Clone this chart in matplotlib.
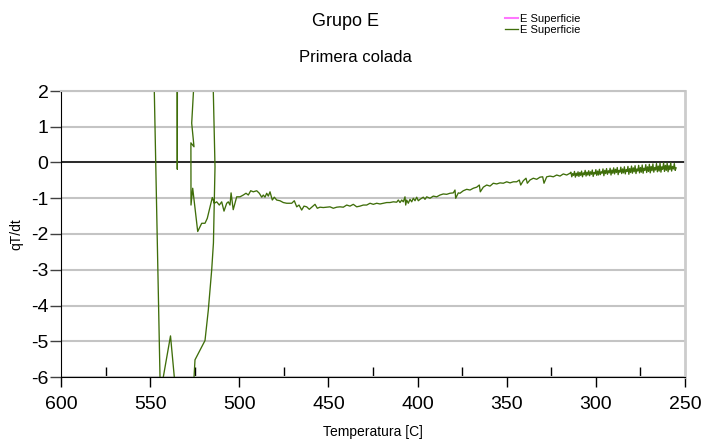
import matplotlib
matplotlib.use("Agg")
import matplotlib.pyplot as plt
from matplotlib.ticker import FixedLocator

plt.rcParams['font.family'] = ['Liberation Sans', 'DejaVu Sans']
plt.rcParams['axes.unicode_minus'] = False

# temperatura [C] y dT/dt, en el orden de la serie (los picos salen del rango)
temp = [548.87, 543.67, 546.13, 538.58, 534.60,
        526.50, 524.84, 519.23, 517.38, 515.47, 514.50, 513.62, 515.03,
        534.85, 534.77, 534.70,
        524.56, 526.69, 525.40, 527.14, 527.08, 526.13, 524.84, 523.32, 522.03,
        521.08, 519.23, 517.94, 516.43, 515.14, 514.01, 512.67, 511.21, 509.86,
        508.57, 507.06, 506.16, 505.21, 504.60, 503.40,
        501.45, 499.60, 497.75, 496.23, 494.94, 493.60, 492.14, 490.23, 488.77,
        487.42, 486.53, 485.58, 484.62, 483.72, 482.77, 481.48, 480.36, 479.01,
        477.16, 475.31, 473.40, 470.60, 469.14, 467.79, 466.50, 465.00, 463.70,
        462.19, 460.73, 459.38, 457.53, 456.24, 454.73, 452.87, 450.97, 449.12,
        447.27, 445.36, 443.51, 441.65, 439.75, 437.90, 436.05, 434.14, 432.29,
        430.44, 428.53, 426.68, 424.83, 422.92, 421.07, 419.22, 417.31, 415.46,
        413.61, 411.70, 410.80, 409.85, 408.90, 408.00, 407.05, 406.66, 406.10,
        405.20, 404.25, 403.29, 402.40, 401.44, 400.49, 399.59, 398.64, 396.79,
        395.83, 394.88, 393.03, 391.18, 389.27, 387.42, 385.57, 383.66, 381.81,
        379.96, 379.01, 378.62, 377.15, 376.20, 374.35, 372.44, 370.59, 368.74,
        366.83, 365.37, 364.81, 363.13, 361.22, 359.37, 357.52, 355.61, 353.76,
        351.91, 350.00, 348.15, 346.30, 344.40, 342.94, 342.15, 340.69, 339.18,
        338.45, 336.94, 335.09, 333.18, 331.33, 329.82, 329.09, 327.57, 325.72,
        323.87, 321.96, 320.11, 318.26, 316.35, 314.50,
        314.0, 313.5, 313.0, 312.5, 312.0, 311.5, 311.0, 310.5, 310.0, 309.5,
        309.0, 308.5, 308.0, 307.5, 307.0, 306.5, 306.0, 305.5, 305.0, 304.5,
        304.0, 303.5, 303.0, 302.5, 302.0, 301.5, 301.0, 300.5, 300.0, 299.5,
        299.0, 298.5, 298.0, 297.5, 297.0, 296.5, 296.0, 295.5, 295.0, 294.5,
        294.0, 293.5, 293.0, 292.5, 292.0, 291.5, 291.0, 290.5, 290.0, 289.5,
        289.0, 288.5, 288.0, 287.5, 287.0, 286.5, 286.0, 285.5, 285.0, 284.5,
        284.0, 283.5, 283.0, 282.5, 282.0, 281.5, 281.0, 280.5, 280.0, 279.5,
        279.0, 278.5, 278.0, 277.5, 277.0, 276.5, 276.0, 275.5, 275.0, 274.5,
        274.0, 273.5, 273.0, 272.5, 272.0, 271.5, 271.0, 270.5, 270.0, 269.5,
        269.0, 268.5, 268.0, 267.5, 267.0, 266.5, 266.0, 265.5, 265.0, 264.5,
        264.0, 263.5, 263.0, 262.5, 262.0, 261.5, 261.0, 260.5, 260.0, 259.5,
        259.0, 258.5, 258.0, 257.5, 257.0, 256.5, 256.0, 255.5, 255.0]

dtdt = [5.0, -8.0, -7.0, -4.85, -7.0,
        -7.0, -5.52, -4.98, -4.13, -3.00, -2.25, -0.12, 3.0,
        3.0, -0.19, 3.0,
        3.0, 1.10, 0.44, 0.55, -1.19, -0.72, -1.27, -1.93, -1.80,
        -1.70, -1.70, -1.56, -1.24, -0.98, -1.14, -1.10, -1.19, -1.10,
        -1.36, -1.14, -1.10, -1.19, -0.85, -1.32,
        -0.96, -0.96, -0.91, -0.86, -0.91, -0.79, -0.82, -0.79, -0.86,
        -0.97, -0.91, -0.97, -0.86, -0.94, -0.82, -1.05, -0.97, -1.05,
        -1.07, -1.12, -1.14, -1.14, -1.07, -1.24, -1.19, -1.33, -1.22,
        -1.24, -1.31, -1.25, -1.17, -1.28, -1.25, -1.26, -1.25, -1.24,
        -1.28, -1.25, -1.24, -1.25, -1.19, -1.22, -1.17, -1.24, -1.22,
        -1.19, -1.19, -1.14, -1.17, -1.14, -1.16, -1.14, -1.12, -1.12,
        -1.10, -1.11, -1.05, -1.12, -1.05, -1.10, -0.96, -1.19, -1.05,
        -1.14, -1.03, -1.10, -1.00, -1.07, -0.97, -1.07, -1.03, -0.97,
        -1.03, -0.96, -1.00, -0.94, -0.96, -0.91, -0.88, -0.89, -0.86,
        -0.85, -0.77, -1.00, -0.85, -0.86, -0.79, -0.75, -0.77, -0.72,
        -0.69, -0.63, -0.82, -0.69, -0.63, -0.66, -0.58, -0.60, -0.57,
        -0.58, -0.54, -0.57, -0.54, -0.54, -0.49, -0.63, -0.51, -0.44,
        -0.58, -0.49, -0.44, -0.47, -0.41, -0.40, -0.58, -0.40, -0.38,
        -0.40, -0.35, -0.38, -0.32, -0.35, -0.30,
        -0.27, -0.40, -0.31, -0.36, -0.25, -0.41, -0.30, -0.37, -0.26, -0.39,
        -0.28, -0.36, -0.24, -0.40, -0.29, -0.34, -0.22, -0.38, -0.27, -0.35,
        -0.23, -0.37, -0.26, -0.33, -0.21, -0.39, -0.28, -0.32, -0.20, -0.36,
        -0.24, -0.35, -0.19, -0.34, -0.26, -0.30, -0.18, -0.37, -0.22, -0.31,
        -0.17, -0.33, -0.23, -0.29, -0.16, -0.35, -0.21, -0.30, -0.15, -0.32,
        -0.19, -0.28, -0.14, -0.34, -0.22, -0.27, -0.13, -0.31, -0.18, -0.29,
        -0.12, -0.32, -0.20, -0.25, -0.11, -0.33, -0.17, -0.28, -0.10, -0.30,
        -0.15, -0.26, -0.09, -0.31, -0.18, -0.24, -0.08, -0.29, -0.14, -0.27,
        -0.07, -0.30, -0.16, -0.22, -0.06, -0.28, -0.12, -0.25, -0.05, -0.29,
        -0.11, -0.23, -0.04, -0.27, -0.14, -0.21, -0.03, -0.26, -0.10, -0.24,
        -0.02, -0.27, -0.12, -0.19, -0.01, -0.25, -0.08, -0.22, -0.02, -0.26,
        -0.09, -0.20, -0.01, -0.24, -0.11, -0.18, -0.03, -0.22, -0.15]

# la serie rosa no tiene puntos visibles, solo aparece en la leyenda
rosa_temp = []
rosa_dtdt = []

xticks = [600, 550, 500, 450, 400, 350, 300, 250]
xminor = [575, 525, 475, 425, 375, 325, 275]
yticks = [-6, -5, -4, -3, -2, -1, 0, 1, 2]

fig = plt.figure(figsize=(7.18, 4.44), dpi=100)
ax = fig.add_axes([61/718, 1 - 377/444, 624/718, 286/444])

ax.plot(rosa_temp, rosa_dtdt, color='#ff77ff', lw=1.5, label='E Superficie')
ax.plot(temp, dtdt, color='#3f6e0a', lw=0.95, label='E Superficie')

ax.axhline(0, color='black', lw=1.1, zorder=1.5)
ax.set_xlim(600, 250)
ax.set_ylim(-6, 2)

ax.xaxis.set_major_locator(FixedLocator(xticks))
ax.xaxis.set_minor_locator(FixedLocator(xminor))
ax.yaxis.set_major_locator(FixedLocator(yticks))
ax.tick_params(axis='x', which='major', direction='out', length=7, width=1,
               labelsize=14, pad=7)
ax.tick_params(axis='x', which='minor', direction='in', length=7, width=1)
ax.tick_params(axis='y', which='major', direction='out', length=8, width=1,
               color='#404040', labelsize=14, pad=1)

ax.yaxis.grid(True, color='#c4c4c4', lw=1.5)
ax.set_axisbelow(True)

ax.spines['left'].set_color('black')
ax.spines['bottom'].set_color('black')
ax.spines['right'].set_color('#cccccc')
ax.spines['right'].set_linewidth(2)
ax.spines['top'].set_color('#c4c4c4')
ax.spines['top'].set_linewidth(1.5)

ax.set_xlabel('Temperatura [C]', fontsize=10, labelpad=8)
ax.set_ylabel('qT/dt', fontsize=10)
ax.yaxis.set_label_coords(-0.060, 0.5)

fig.text(346/718, 1 - 21/444, 'Grupo E', fontsize=13, ha='center', va='center')
fig.text(355/718, 1 - 57/444, 'Primera colada', fontsize=12, ha='center', va='center')

fig.legend(loc='upper left', bbox_to_anchor=(497/718, 1 - 6/444), frameon=False,
           fontsize=8, handlelength=1.2, handletextpad=0.2, labelspacing=0.1,
           borderpad=0.2)

fig.savefig('out.png', dpi=100)
